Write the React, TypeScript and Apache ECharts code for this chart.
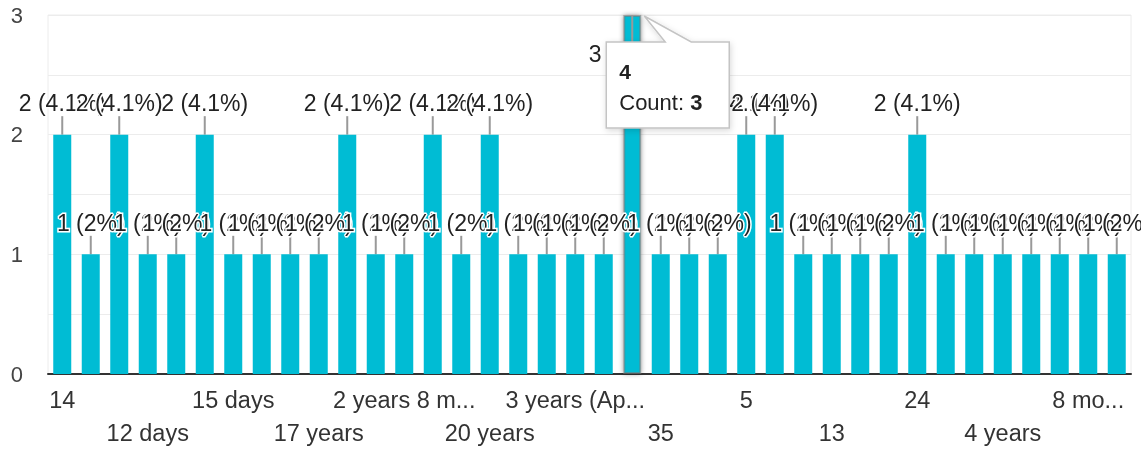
import React, { useEffect, useRef } from "react";
import * as echarts from "echarts";

const categories: string[] = [
  "14", "10", "1 year", "12 days", "11", "6 months", "15 days", "16", "18 months", "17 years",
  "2", "19", "2 years 8 months", "2 years", "21", "20 years", "3", "25", "3 years (Approximately)", "30",
  "4", "35", "40", "45", "5", "6", "7", "13", "8", "9",
  "24", "3 months", "3 years", "4 years", "5 years", "6 years", "8 months", "9 months",
];
const counts: number[] = [
  2, 1, 2, 1, 1, 2, 1, 1, 1, 1,
  2, 1, 1, 2, 1, 2, 1, 1, 1, 1,
  3, 1, 1, 1, 2, 2, 1, 1, 1, 1,
  2, 1, 1, 1, 1, 1, 1, 1,
];
const yTicks: number[] = [0, 1, 2, 3];
const hoveredIndex = 20;
const edgeLabelIndex = 36;

const FONT = 'Arial, "Liberation Sans", sans-serif';

export default function App() {
  const ref = useRef<HTMLDivElement>(null);
  useEffect(() => {
    if (!ref.current) return;
    const chart = echarts.init(ref.current, null, { renderer: "svg" });
    const total = counts.reduce((a, b) => a + b, 0);
    const pct = (v: number) => parseFloat(((v / total) * 100).toFixed(1));

    const xData = categories.map((c, i) =>
      i === edgeLabelIndex
        ? { value: c, textStyle: { width: 80, overflow: "truncate" } }
        : c.length > 12
        ? { value: c, textStyle: { width: 150, overflow: "truncate" } }
        : c
    );
    const seriesData = counts.map((v, i) =>
      i === hoveredIndex
        ? {
            value: v,
            itemStyle: {
              shadowBlur: 5,
              shadowColor: "rgba(0,0,0,0.45)",
              borderColor: "rgba(120,120,120,0.55)",
              borderWidth: 2,
            },
            label: { position: "insideTop", distance: 27 },
            labelLine: { show: false },
          }
        : v
    );

    chart.setOption({
      animation: false,
      grid: {
        left: 48,
        right: 10,
        top: 15,
        bottom: 76,
        show: true,
        borderColor: "#ececec",
        borderWidth: 1,
      },
      xAxis: {
        type: "category",
        data: xData,
        axisLine: { lineStyle: { color: "#333", width: 2 } },
        axisTick: { show: false },
        axisLabel: {
          interval: 2,
          showMinLabel: true,
          fontFamily: FONT,
          fontSize: 23.5,
          color: "#333",
          margin: 9,
          lineHeight: 33,
          formatter: (value: string, index: number) =>
            Math.floor(index / 3) % 2 === 1 ? "\n" + value : value,
        },
      },
      yAxis: {
        type: "value",
        min: 0,
        max: yTicks[yTicks.length - 1],
        interval: 0.5,
        axisLine: { show: false },
        axisTick: { show: false },
        splitLine: { lineStyle: { color: "#ececec", width: 1 } },
        axisLabel: {
          fontFamily: FONT,
          fontSize: 22,
          color: "#444",
          margin: 25,
          formatter: (v: number) => (yTicks.includes(v) ? String(v) : ""),
        },
      },
      series: [
        {
          type: "bar",
          data: seriesData,
          barWidth: 18,
          itemStyle: { color: "#00bcd4" },
          label: {
            show: true,
            position: "top",
            distance: 20,
            fontFamily: FONT,
            fontSize: 23,
            color: "#222",
            textBorderColor: "#fff",
            textBorderWidth: 3,
            formatter: (p: any) => `${p.value} (${pct(p.value)}%)`,
          },
          labelLine: { show: true, lineStyle: { color: "#999", width: 2 } },
        },
      ],
    });

    const p = chart.convertToPixel({ gridIndex: 0 }, [hoveredIndex, counts[hoveredIndex]]) as number[];
    const bx = p[0];
    const by = p[1];
    chart.setOption({
      graphic: [
        {
          type: "line",
          z: 999,
          zlevel: 1,
          shape: { x1: bx, y1: by, x2: bx, y2: by + 27 },
          style: { stroke: "#999", lineWidth: 2 },
        },
        {
          type: "polygon",
          z: 1000,
          zlevel: 1,
          shape: {
            points: [
              [bx - 26, by + 27],
              [bx + 33, by + 27],
              [bx + 12, by + 1],
              [bx + 59, by + 27],
              [bx + 97, by + 27],
              [bx + 97, by + 113],
              [bx - 26, by + 113],
            ],
          },
          style: {
            fill: "#fff",
            stroke: "#c4c4c4",
            lineWidth: 1.5,
            shadowBlur: 6,
            shadowColor: "rgba(0,0,0,0.15)",
            shadowOffsetX: 1,
            shadowOffsetY: 2,
          },
        },
        {
          type: "text",
          z: 1001,
          zlevel: 1,
          x: bx - 13,
          y: by + 56,
          style: {
            text: categories[hoveredIndex],
            fontFamily: FONT,
            fontSize: 21,
            fontWeight: "bold",
            fill: "#222",
            verticalAlign: "middle",
          },
        },
        {
          type: "text",
          z: 1001,
          zlevel: 1,
          x: bx - 13,
          y: by + 87,
          style: {
            text: "{n|Count: }{b|" + counts[hoveredIndex] + "}",
            fontFamily: FONT,
            fontSize: 22,
            fill: "#222",
            verticalAlign: "middle",
            rich: {
              n: { fontFamily: FONT, fontSize: 22, fill: "#222" },
              b: { fontFamily: FONT, fontSize: 22, fontWeight: "bold", fill: "#222" },
            },
          },
        },
      ],
    });

    return () => chart.dispose();
  }, []);
  return (
    <div
      ref={ref}
      style={{ position: "fixed", left: 0, top: 0, width: 1141, height: 450 }}
    />
  );
}
